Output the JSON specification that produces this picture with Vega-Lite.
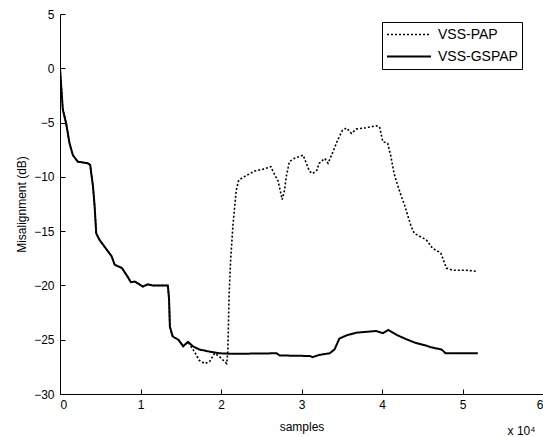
{
  "$schema": "https://vega.github.io/schema/vega-lite/v6.json",
  "width": 483,
  "height": 380,
  "autosize": {"type": "none"},
  "padding": {"left": 60, "top": 14, "right": 0, "bottom": 43},
  "background": "white",
  "config": {
    "view": {"stroke": null},
    "font": "Liberation Sans",
    "axis": {
      "grid": false,
      "domainColor": "black",
      "tickColor": "black",
      "tickSize": -5,
      "labelColor": "black",
      "titleColor": "black",
      "labelFont": "Liberation Sans",
      "titleFont": "Liberation Sans",
      "labelFontSize": 12,
      "titleFontSize": 12,
      "titleFontWeight": "normal"
    }
  },
  "datasets": {
    "curves": [
      {"series": "VSS-GSPAP", "x": 0.0, "y": 0.0},
      {"series": "VSS-GSPAP", "x": 0.035, "y": -3.8},
      {"series": "VSS-GSPAP", "x": 0.077, "y": -5.1},
      {"series": "VSS-GSPAP", "x": 0.118, "y": -6.9},
      {"series": "VSS-GSPAP", "x": 0.16, "y": -8.0},
      {"series": "VSS-GSPAP", "x": 0.22, "y": -8.6},
      {"series": "VSS-GSPAP", "x": 0.345, "y": -8.75},
      {"series": "VSS-GSPAP", "x": 0.375, "y": -8.9},
      {"series": "VSS-GSPAP", "x": 0.41, "y": -10.9},
      {"series": "VSS-GSPAP", "x": 0.43, "y": -12.7},
      {"series": "VSS-GSPAP", "x": 0.45, "y": -15.2},
      {"series": "VSS-GSPAP", "x": 0.49, "y": -15.8},
      {"series": "VSS-GSPAP", "x": 0.57, "y": -16.6},
      {"series": "VSS-GSPAP", "x": 0.64, "y": -17.3},
      {"series": "VSS-GSPAP", "x": 0.68, "y": -18.1},
      {"series": "VSS-GSPAP", "x": 0.77, "y": -18.4},
      {"series": "VSS-GSPAP", "x": 0.84, "y": -19.2},
      {"series": "VSS-GSPAP", "x": 0.88, "y": -19.7},
      {"series": "VSS-GSPAP", "x": 0.93, "y": -19.65},
      {"series": "VSS-GSPAP", "x": 1.03, "y": -20.1},
      {"series": "VSS-GSPAP", "x": 1.09, "y": -19.9},
      {"series": "VSS-GSPAP", "x": 1.15, "y": -20.0},
      {"series": "VSS-GSPAP", "x": 1.34, "y": -20.0},
      {"series": "VSS-GSPAP", "x": 1.355, "y": -21.3},
      {"series": "VSS-GSPAP", "x": 1.365, "y": -23.8},
      {"series": "VSS-GSPAP", "x": 1.40, "y": -24.7},
      {"series": "VSS-GSPAP", "x": 1.47, "y": -25.0},
      {"series": "VSS-GSPAP", "x": 1.51, "y": -25.4},
      {"series": "VSS-GSPAP", "x": 1.53, "y": -25.6},
      {"series": "VSS-GSPAP", "x": 1.59, "y": -25.2},
      {"series": "VSS-GSPAP", "x": 1.65, "y": -25.6},
      {"series": "VSS-GSPAP", "x": 1.73, "y": -25.9},
      {"series": "VSS-GSPAP", "x": 1.86, "y": -26.1},
      {"series": "VSS-GSPAP", "x": 1.98, "y": -26.25},
      {"series": "VSS-GSPAP", "x": 2.15, "y": -26.3},
      {"series": "VSS-GSPAP", "x": 2.69, "y": -26.25},
      {"series": "VSS-GSPAP", "x": 2.73, "y": -26.45},
      {"series": "VSS-GSPAP", "x": 3.10, "y": -26.5},
      {"series": "VSS-GSPAP", "x": 3.14, "y": -26.6},
      {"series": "VSS-GSPAP", "x": 3.22, "y": -26.4},
      {"series": "VSS-GSPAP", "x": 3.35, "y": -26.25},
      {"series": "VSS-GSPAP", "x": 3.41, "y": -25.9},
      {"series": "VSS-GSPAP", "x": 3.47, "y": -24.9},
      {"series": "VSS-GSPAP", "x": 3.56, "y": -24.6},
      {"series": "VSS-GSPAP", "x": 3.68, "y": -24.35},
      {"series": "VSS-GSPAP", "x": 3.93, "y": -24.2},
      {"series": "VSS-GSPAP", "x": 4.01, "y": -24.4},
      {"series": "VSS-GSPAP", "x": 4.08, "y": -24.1},
      {"series": "VSS-GSPAP", "x": 4.18, "y": -24.55},
      {"series": "VSS-GSPAP", "x": 4.30, "y": -24.95},
      {"series": "VSS-GSPAP", "x": 4.42, "y": -25.3},
      {"series": "VSS-GSPAP", "x": 4.53, "y": -25.5},
      {"series": "VSS-GSPAP", "x": 4.61, "y": -25.7},
      {"series": "VSS-GSPAP", "x": 4.74, "y": -25.9},
      {"series": "VSS-GSPAP", "x": 4.79, "y": -26.25},
      {"series": "VSS-GSPAP", "x": 5.19, "y": -26.25},

      {"series": "VSS-PAP", "x": 0.0, "y": 0.0},
      {"series": "VSS-PAP", "x": 0.035, "y": -3.8},
      {"series": "VSS-PAP", "x": 0.077, "y": -5.1},
      {"series": "VSS-PAP", "x": 0.118, "y": -6.9},
      {"series": "VSS-PAP", "x": 0.16, "y": -8.0},
      {"series": "VSS-PAP", "x": 0.22, "y": -8.6},
      {"series": "VSS-PAP", "x": 0.345, "y": -8.75},
      {"series": "VSS-PAP", "x": 0.375, "y": -8.9},
      {"series": "VSS-PAP", "x": 0.41, "y": -10.9},
      {"series": "VSS-PAP", "x": 0.43, "y": -12.7},
      {"series": "VSS-PAP", "x": 0.45, "y": -15.2},
      {"series": "VSS-PAP", "x": 0.49, "y": -15.8},
      {"series": "VSS-PAP", "x": 0.57, "y": -16.6},
      {"series": "VSS-PAP", "x": 0.64, "y": -17.3},
      {"series": "VSS-PAP", "x": 0.68, "y": -18.1},
      {"series": "VSS-PAP", "x": 0.77, "y": -18.4},
      {"series": "VSS-PAP", "x": 0.84, "y": -19.2},
      {"series": "VSS-PAP", "x": 0.88, "y": -19.7},
      {"series": "VSS-PAP", "x": 0.93, "y": -19.65},
      {"series": "VSS-PAP", "x": 1.03, "y": -20.1},
      {"series": "VSS-PAP", "x": 1.09, "y": -19.9},
      {"series": "VSS-PAP", "x": 1.15, "y": -20.0},
      {"series": "VSS-PAP", "x": 1.34, "y": -20.0},
      {"series": "VSS-PAP", "x": 1.355, "y": -21.3},
      {"series": "VSS-PAP", "x": 1.365, "y": -23.8},
      {"series": "VSS-PAP", "x": 1.40, "y": -24.7},
      {"series": "VSS-PAP", "x": 1.47, "y": -25.0},
      {"series": "VSS-PAP", "x": 1.51, "y": -25.4},
      {"series": "VSS-PAP", "x": 1.53, "y": -25.6},
      {"series": "VSS-PAP", "x": 1.59, "y": -25.2},
      {"series": "VSS-PAP", "x": 1.67, "y": -26.1},
      {"series": "VSS-PAP", "x": 1.73, "y": -26.9},
      {"series": "VSS-PAP", "x": 1.80, "y": -27.2},
      {"series": "VSS-PAP", "x": 1.86, "y": -27.0},
      {"series": "VSS-PAP", "x": 1.92, "y": -26.25},
      {"series": "VSS-PAP", "x": 1.98, "y": -26.55},
      {"series": "VSS-PAP", "x": 2.07, "y": -27.2},
      {"series": "VSS-PAP", "x": 2.085, "y": -26.1},
      {"series": "VSS-PAP", "x": 2.10, "y": -21.0},
      {"series": "VSS-PAP", "x": 2.12, "y": -17.6},
      {"series": "VSS-PAP", "x": 2.15, "y": -14.3},
      {"series": "VSS-PAP", "x": 2.19, "y": -11.2},
      {"series": "VSS-PAP", "x": 2.22, "y": -10.3},
      {"series": "VSS-PAP", "x": 2.29, "y": -9.98},
      {"series": "VSS-PAP", "x": 2.42, "y": -9.46},
      {"series": "VSS-PAP", "x": 2.52, "y": -9.3},
      {"series": "VSS-PAP", "x": 2.62, "y": -9.06},
      {"series": "VSS-PAP", "x": 2.64, "y": -9.4},
      {"series": "VSS-PAP", "x": 2.71, "y": -10.4},
      {"series": "VSS-PAP", "x": 2.76, "y": -12.1},
      {"series": "VSS-PAP", "x": 2.79, "y": -11.2},
      {"series": "VSS-PAP", "x": 2.81, "y": -10.0},
      {"series": "VSS-PAP", "x": 2.85, "y": -8.6},
      {"series": "VSS-PAP", "x": 2.91, "y": -8.3},
      {"series": "VSS-PAP", "x": 3.02, "y": -8.0},
      {"series": "VSS-PAP", "x": 3.06, "y": -8.75},
      {"series": "VSS-PAP", "x": 3.10, "y": -9.5},
      {"series": "VSS-PAP", "x": 3.14, "y": -9.7},
      {"series": "VSS-PAP", "x": 3.19, "y": -9.4},
      {"series": "VSS-PAP", "x": 3.22, "y": -8.75},
      {"series": "VSS-PAP", "x": 3.29, "y": -8.3},
      {"series": "VSS-PAP", "x": 3.33, "y": -8.75},
      {"series": "VSS-PAP", "x": 3.39, "y": -7.7},
      {"series": "VSS-PAP", "x": 3.45, "y": -6.6},
      {"series": "VSS-PAP", "x": 3.51, "y": -5.7},
      {"series": "VSS-PAP", "x": 3.56, "y": -5.5},
      {"series": "VSS-PAP", "x": 3.62, "y": -6.0},
      {"series": "VSS-PAP", "x": 3.68, "y": -5.6},
      {"series": "VSS-PAP", "x": 3.80, "y": -5.47},
      {"series": "VSS-PAP", "x": 3.93, "y": -5.3},
      {"series": "VSS-PAP", "x": 3.97, "y": -5.4},
      {"series": "VSS-PAP", "x": 4.01, "y": -6.76},
      {"series": "VSS-PAP", "x": 4.07, "y": -6.9},
      {"series": "VSS-PAP", "x": 4.11, "y": -8.1},
      {"series": "VSS-PAP", "x": 4.15, "y": -9.7},
      {"series": "VSS-PAP", "x": 4.20, "y": -10.9},
      {"series": "VSS-PAP", "x": 4.24, "y": -11.8},
      {"series": "VSS-PAP", "x": 4.28, "y": -12.6},
      {"series": "VSS-PAP", "x": 4.33, "y": -13.8},
      {"series": "VSS-PAP", "x": 4.36, "y": -14.5},
      {"series": "VSS-PAP", "x": 4.40, "y": -15.2},
      {"series": "VSS-PAP", "x": 4.55, "y": -15.8},
      {"series": "VSS-PAP", "x": 4.63, "y": -16.6},
      {"series": "VSS-PAP", "x": 4.73, "y": -17.0},
      {"series": "VSS-PAP", "x": 4.80, "y": -18.4},
      {"series": "VSS-PAP", "x": 4.88, "y": -18.6},
      {"series": "VSS-PAP", "x": 5.05, "y": -18.6},
      {"series": "VSS-PAP", "x": 5.17, "y": -18.7}
    ],
    "note": [{"label": "x 10⁴", "x": 5.56, "y": -33.4}]
  },
  "layer": [
    {
      "data": {"name": "curves"},
      "mark": {"type": "line", "color": "black", "clip": true},
      "encoding": {
        "x": {
          "field": "x", "type": "quantitative",
          "scale": {"domain": [0, 6], "nice": false, "zero": false},
          "axis": {"values": [0, 1, 2, 3, 4, 5, 6], "format": "d", "title": "samples", "labelPadding": 10, "titlePadding": 11}
        },
        "y": {
          "field": "y", "type": "quantitative",
          "scale": {"domain": [-30, 5], "nice": false, "zero": false},
          "axis": {"values": [5, 0, -5, -10, -15, -20, -25, -30], "format": "d", "title": "Misalignment (dB)", "labelPadding": 11, "titlePadding": 5}
        },
        "detail": {"field": "series"},
        "strokeDash": {
          "field": "series", "type": "nominal",
          "scale": {"domain": ["VSS-PAP", "VSS-GSPAP"], "range": [[2, 2], [1, 0]]},
          "legend": {
            "title": null,
            "orient": "none",
            "legendX": 322,
            "legendY": 8,
            "strokeColor": "black",
            "fillColor": "white",
            "padding": 4,
            "symbolType": "stroke",
            "symbolSize": 1936,
            "symbolStrokeWidth": 1.6,
            "symbolStrokeColor": "black",
            "labelFont": "Liberation Sans",
            "labelFontSize": 14,
            "labelColor": "black",
            "clipHeight": 17,
            "rowPadding": 5,
            "labelOffset": 6
          }
        },
        "strokeWidth": {
          "field": "series", "type": "nominal",
          "scale": {"domain": ["VSS-PAP", "VSS-GSPAP"], "range": [1.6, 2]},
          "legend": null
        }
      }
    },
    {
      "data": {"name": "note"},
      "mark": {"type": "text", "font": "Liberation Sans", "fontSize": 12, "color": "black", "align": "left", "clip": false},
      "encoding": {
        "x": {"field": "x", "type": "quantitative"},
        "y": {"field": "y", "type": "quantitative"},
        "text": {"field": "label"}
      }
    }
  ]
}
